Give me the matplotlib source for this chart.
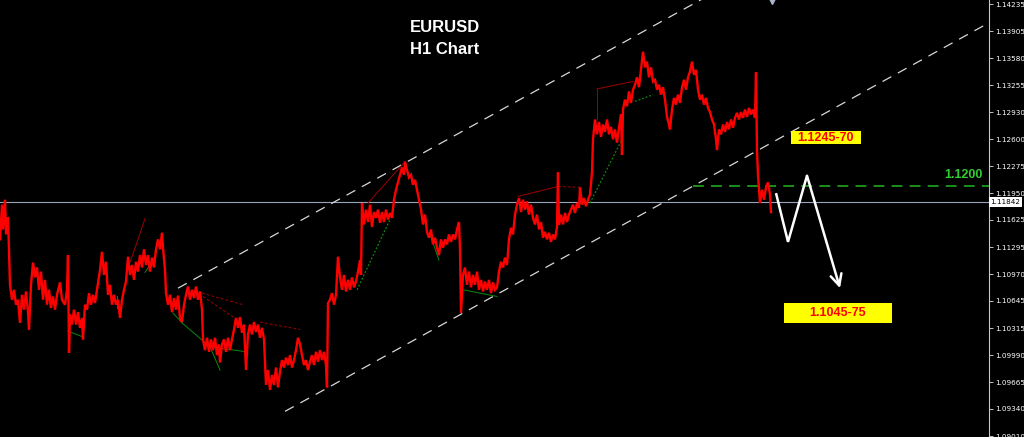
import matplotlib
matplotlib.use("Agg")
import matplotlib.pyplot as plt
from matplotlib.patches import Rectangle
import matplotlib.transforms as mtransforms

# ---------------- data ----------------
bars = [0, 2, 3, 5, 6, 8, 9, 10, 12, 14, 16, 18, 20, 22, 24, 26, 28, 29, 31, 33, 35, 37, 39, 41, 43, 45, 47, 49,
        51, 53, 55, 57, 60, 62, 65, 67, 68, 69, 70, 72, 74, 76, 78, 80, 82, 83, 85, 87, 89, 91, 93, 95, 97, 100,
        102, 104, 106, 108, 110, 112, 114, 116, 118, 120, 122, 124, 126, 128, 130, 132, 134, 136, 138, 140, 142,
        144, 146, 148, 150, 152, 154, 156, 158, 160, 162, 163, 165, 166,
        168, 170, 172, 174, 176, 178, 180, 182, 184, 186, 188, 190, 192, 194, 196, 198, 200, 202, 203, 205, 207,
        209, 211, 213, 215, 217, 219, 220, 222, 224, 226, 228, 230, 232, 234, 236, 238, 240, 242, 244, 246, 248,
        250, 252, 254, 256, 258, 260, 262, 264, 266, 268, 270, 272, 274, 276, 278, 280, 282, 284, 286, 288, 290,
        292, 294, 296, 298, 300, 302, 304, 306, 308, 310, 312, 314, 316, 318, 320, 322, 324, 326, 327, 328, 330,
        332, 334, 336, 338, 340, 342, 344, 346, 348, 350, 352, 354, 356, 358, 360, 361, 362,
        364, 366, 368, 370, 372, 374, 376, 378, 380, 382, 384, 386, 388, 390, 392, 394, 396, 398, 400, 402, 404,
        405, 407, 409, 411, 413, 415, 417, 419, 421, 423, 425, 427, 429, 431, 433, 435, 437, 439, 441, 443, 445,
        447, 449, 451, 453, 455, 457, 459,
        460, 461, 463, 465, 467, 469, 471, 473, 475, 477, 479, 481, 483, 485, 487, 489, 491, 493, 495, 497, 499,
        501, 503, 505, 507, 509, 511, 513, 515, 517, 519, 521, 523, 525, 527, 529, 531, 533, 535, 537, 539, 541,
        543, 545, 547, 549, 551, 553, 555, 557, 558, 559, 561, 563, 565, 567, 569, 571, 573, 575, 577, 579, 580,
        582, 584, 586, 588, 590, 592,
        593, 595, 597, 599, 601, 603, 605, 607, 609, 611, 613, 615, 617, 619, 621, 622, 623, 625, 627, 629, 631,
        633, 635, 637, 639, 641, 643, 645, 647, 649, 651, 653, 655, 657, 659, 661, 663, 665, 667, 669, 670, 672,
        674, 676, 678, 680, 682, 684, 686, 688, 690, 692, 694, 696, 698, 700, 702, 704, 706, 708, 710, 712, 714,
        716, 717, 719, 721, 723, 725, 727, 729, 731, 733, 735, 737, 739, 741, 743, 745, 747, 749, 751, 753, 755,
        756, 757, 758, 760, 762, 764, 766, 768, 770, 771]

prices = [1.1139, 1.1181, 1.1151, 1.1187, 1.1145, 1.1166, 1.1126, 1.1084, 1.1066, 1.1078, 1.1060, 1.1066,
          1.1038, 1.1072, 1.1054, 1.1076, 1.1051, 1.1030, 1.1084, 1.1111, 1.1093, 1.1105, 1.1078, 1.1100,
          1.1066, 1.1090, 1.1060, 1.1078, 1.1056, 1.1070, 1.1054, 1.1072, 1.1087, 1.1066, 1.1060, 1.1078,
          1.1120, 1.1002, 1.1048, 1.1036, 1.1054, 1.1036, 1.1051, 1.1032, 1.1044, 1.1018, 1.1060, 1.1054,
          1.1074, 1.1060, 1.1072, 1.1062, 1.1078, 1.1102, 1.1124, 1.1096, 1.1112, 1.1072, 1.1084, 1.1060,
          1.1072, 1.1060, 1.1066, 1.1044, 1.1066, 1.1078, 1.1088, 1.1118, 1.1096, 1.1108, 1.1090, 1.1112,
          1.1100, 1.1120, 1.1105, 1.1127, 1.1108, 1.1120, 1.1100, 1.1117, 1.1105, 1.1127, 1.1139, 1.1127,
          1.1147, 1.1129, 1.1102, 1.1074,
          1.1060, 1.1072, 1.1051, 1.1068, 1.1054, 1.1071, 1.1044, 1.1039, 1.1060, 1.1072, 1.1082, 1.1066,
          1.1078, 1.1068, 1.1082, 1.1066, 1.1076, 1.1054, 1.1018, 1.1005, 1.1020, 1.1003, 1.1018, 1.1005,
          1.1020, 1.0999, 1.1012, 1.0990, 1.1012, 1.1018, 1.1003, 1.1020, 1.1005, 1.1018, 1.1030, 1.1044,
          1.1032, 1.1045, 1.1026, 1.1036, 1.0981, 1.1024, 1.1036, 1.1024, 1.1039, 1.1027, 1.1036, 1.1020,
          1.1032, 1.1018, 1.0963, 1.0981, 1.0957, 1.0975, 1.0963, 1.0984, 1.0960, 1.0979, 1.0993, 1.0984,
          1.0996, 1.0987, 1.0999, 1.0984, 1.0993, 1.1005, 1.1020, 1.1012, 1.0999, 1.0987, 1.0993, 1.0981,
          1.0991, 1.0999, 1.0987, 1.1003, 1.0991, 1.1005, 1.0993, 1.1003, 1.0987, 1.0960, 1.1062, 1.1066,
          1.1074, 1.1060, 1.1072, 1.1118, 1.1093, 1.1078, 1.1096, 1.1076, 1.1090, 1.1078, 1.1093, 1.1081,
          1.1088, 1.1100, 1.1114, 1.1096, 1.1183,
          1.1157, 1.1175, 1.1160, 1.1181, 1.1154, 1.1172, 1.1165, 1.1175, 1.1159, 1.1172, 1.1160, 1.1175,
          1.1163, 1.1171, 1.1165, 1.1187, 1.1199, 1.1208, 1.1217, 1.1226, 1.1217, 1.1233, 1.1223, 1.1214,
          1.1217, 1.1205, 1.1211, 1.1199, 1.1187, 1.1175, 1.1157, 1.1169, 1.1148, 1.1141, 1.1151, 1.1133,
          1.1141, 1.1129, 1.1120, 1.1139, 1.1129, 1.1139, 1.1133, 1.1145, 1.1136, 1.1145, 1.1139, 1.1151,
          1.1160,
          1.1127, 1.1050, 1.1096, 1.1105, 1.1084, 1.1100, 1.1081, 1.1096, 1.1084, 1.1100, 1.1078, 1.1090,
          1.1076, 1.1088, 1.1078, 1.1090, 1.1074, 1.1087, 1.1078, 1.1081, 1.1100, 1.1112, 1.1105, 1.1117,
          1.1108, 1.1139, 1.1153, 1.1145, 1.1169, 1.1181, 1.1189, 1.1172, 1.1187, 1.1175, 1.1185, 1.1169,
          1.1181, 1.1165, 1.1157, 1.1169, 1.1151, 1.1160, 1.1141, 1.1148, 1.1139, 1.1147, 1.1136, 1.1145,
          1.1139, 1.1154, 1.1220, 1.1157, 1.1169, 1.1157, 1.1171, 1.1160, 1.1169, 1.1175, 1.1181, 1.1171,
          1.1183, 1.1177, 1.1202, 1.1181, 1.1189, 1.1179, 1.1187, 1.1193, 1.1220,
          1.1260, 1.1284, 1.1266, 1.1281, 1.1263, 1.1278, 1.1269, 1.1284, 1.1266, 1.1275, 1.1260, 1.1272,
          1.1256, 1.1274, 1.1290, 1.1241, 1.1296, 1.1308, 1.1300, 1.1318, 1.1304, 1.1320, 1.1326, 1.1335,
          1.1323, 1.1344, 1.1366, 1.1347, 1.1354, 1.1335, 1.1347, 1.1330, 1.1332, 1.1320, 1.1326, 1.1314,
          1.1323, 1.1308, 1.1287, 1.1278, 1.1272, 1.1296, 1.1310, 1.1302, 1.1314, 1.1304, 1.1323, 1.1332,
          1.1320, 1.1335, 1.1342, 1.1354, 1.1338, 1.1344, 1.1320, 1.1308, 1.1314, 1.1302, 1.1310, 1.1298,
          1.1293, 1.1284, 1.1278, 1.1260, 1.1247, 1.1272, 1.1266, 1.1278, 1.1269, 1.1281, 1.1272, 1.1284,
          1.1274, 1.1286, 1.1292, 1.1284, 1.1293, 1.1286, 1.1296, 1.1287, 1.1298, 1.1290, 1.1296, 1.1286,
          1.1341, 1.1247, 1.1217, 1.1183, 1.1199, 1.1187, 1.1202, 1.1208, 1.1193, 1.1172]

# channel lines: (bar, price) endpoints
upper_channel_bars = [178, 989]
upper_channel_prices = [1.1080, 1.1621]
lower_channel_bars = [285, 989]
lower_channel_prices = [1.0931, 1.1401]

current_price = 1.11842
green_level = 1.12035
green_level_start = 693
green_level_label = "1.1200"

# zigzag indicator segments: (bar0, price0, bar1, price1)
red_solid_segments = [(0, 1.1159, 8, 1.1166), (130, 1.1111, 145, 1.1164), (368, 1.1183, 405, 1.1233),
                      (518, 1.1191, 558, 1.1203), (597, 1.1321, 633, 1.1330), (597, 1.1284, 597, 1.1321)]
red_dashed_segments = [(202, 1.1074, 243, 1.1060), (203, 1.1070, 237, 1.1042), (260, 1.1039, 300, 1.1030),
                       (558, 1.1203, 580, 1.1202)]
green_solid_segments = [(68, 1.1028, 83, 1.1021), (173, 1.1050, 182, 1.1038), (182, 1.1038, 210, 1.1009),
                        (210, 1.1009, 220, 1.0981), (210, 1.1009, 247, 1.1003), (463, 1.1078, 497, 1.1070),
                        (430, 1.1145, 439, 1.1114), (117, 1.1070, 117, 1.1056), (145, 1.1099, 153, 1.1114)]
green_dotted_segments = [(357, 1.1078, 390, 1.1163), (590, 1.1183, 622, 1.1260), (635, 1.1306, 653, 1.1314)]

# projected path (white arrow)
arrow_bars = [776, 788, 807, 840]
arrow_prices = [1.1195, 1.1136, 1.1216, 1.1080]

# target boxes: (bar_left, bar_right, price_bottom, price_top, text)
target_boxes = [(791, 861, 1.12543, 1.12701, "1.1245-70"),
                (784, 892, 1.10378, 1.10620, "1.1045-75")]

tick_values = [1.14235, 1.13905, 1.13580, 1.13255, 1.12930, 1.12600, 1.12275, 1.11950, 1.11625,
               1.11295, 1.10970, 1.10645, 1.10315, 1.09990, 1.09665, 1.09340, 1.09010]
tick_labels = ["%.5f" % v for v in tick_values]

title_lines = ["EURUSD", "H1 Chart"]

# ---------------- figure ----------------
W, H = 1024, 437
fig = plt.figure(figsize=(W / 100, H / 100), dpi=100, facecolor="black")
ax = fig.add_axes([0, 0, 989 / W, 1])
ax.set_facecolor("black")
ax.set_xlim(0, 989)
ax.set_ylim(1.0900, 1.14285)

# spines / ticks
for s in ["top", "left", "bottom"]:
    ax.spines[s].set_visible(False)
ax.spines["right"].set_color("#c8c8c8")
ax.spines["right"].set_linewidth(0.8)
ax.set_xticks([])
ax.yaxis.tick_right()
ax.set_yticks(tick_values)
ax.set_yticklabels(tick_labels)
ax.tick_params(axis="y", colors="#e0e0e0", labelcolor="white", labelsize=5.2, length=3, width=0.6, pad=1.2)
for lab in ax.get_yticklabels():
    lab.set_family("DejaVu Sans")

# current price line
ax.axhline(current_price, color="#9aa4b8", lw=0.8, zorder=2)

# channel lines
ax.plot(upper_channel_bars, upper_channel_prices, color="#d8d8d8", lw=0.9, dashes=(8, 6), zorder=3)
ax.plot(lower_channel_bars, lower_channel_prices, color="#d8d8d8", lw=0.9, dashes=(8, 6), zorder=3)

# green level
ax.plot([green_level_start, 989], [green_level, green_level], color="#1e9a1e", lw=1.3, dashes=(6, 4), zorder=3)
ax.text(983, green_level + 0.0006, green_level_label, color="#33cc33", fontsize=9, fontweight="bold",
        family="Liberation Sans", ha="right", va="bottom", zorder=6)

# zigzag indicator
for x0, p0, x1, p1 in red_solid_segments:
    ax.plot([x0, x1], [p0, p1], color="#a00000", lw=0.7, zorder=4)
for x0, p0, x1, p1 in red_dashed_segments:
    ax.plot([x0, x1], [p0, p1], color="#a00000", lw=0.7, dashes=(3, 2), zorder=4)
for x0, p0, x1, p1 in green_solid_segments:
    ax.plot([x0, x1], [p0, p1], color="#0a8a0a", lw=0.7, zorder=4)
for x0, p0, x1, p1 in green_dotted_segments:
    ax.plot([x0, x1], [p0, p1], color="#0a8a0a", lw=0.9, dashes=(1.5, 1.5), zorder=4)

# price
ax.plot(bars, prices, color="#ff0000", lw=1.7, zorder=5, solid_joinstyle="miter")

# arrow
ax.plot(arrow_bars[:3], arrow_prices[:3], color="white", lw=1.8, zorder=7, solid_joinstyle="miter",
        solid_capstyle="butt")
ax.annotate("", xy=(arrow_bars[3], arrow_prices[3]), xytext=(arrow_bars[2], arrow_prices[2]),
            arrowprops=dict(arrowstyle="->,head_length=0.8,head_width=0.4", color="white", lw=1.8,
                            shrinkA=0, shrinkB=0), zorder=7)

# target boxes
for x0, x1, p0, p1, txt in target_boxes:
    ax.add_patch(Rectangle((x0, p0), x1 - x0, p1 - p0, facecolor="#ffff00", edgecolor="none", zorder=6))
    ax.text((x0 + x1) / 2, (p0 + p1) / 2, txt, color="#ff0000", fontsize=9, fontweight="bold",
            family="Liberation Sans", ha="center", va="center", zorder=7)

# small marker at top
ax.plot([772], [1.1427], marker="v", color="#a8b4c8", markersize=4, clip_on=False, zorder=8)

# current price label on axis
trans = mtransforms.blended_transform_factory(ax.transAxes, ax.transData)
ax.text(1.0015, current_price, "%.5f" % current_price, transform=trans, color="black", fontsize=5.2,
        family="DejaVu Sans", ha="left", va="center", clip_on=False, zorder=9,
        bbox=dict(boxstyle="square,pad=0.25", facecolor="white", edgecolor="none"))

# title
fig.text(445 / W, 1 - 27 / H, title_lines[0], color="white", fontsize=12, fontweight="bold",
         family="Liberation Sans", ha="center", va="center")
fig.text(445 / W, 1 - 49 / H, title_lines[1], color="white", fontsize=12, fontweight="bold",
         family="Liberation Sans", ha="center", va="center")

fig.savefig("out.png", dpi=100, facecolor="black")
